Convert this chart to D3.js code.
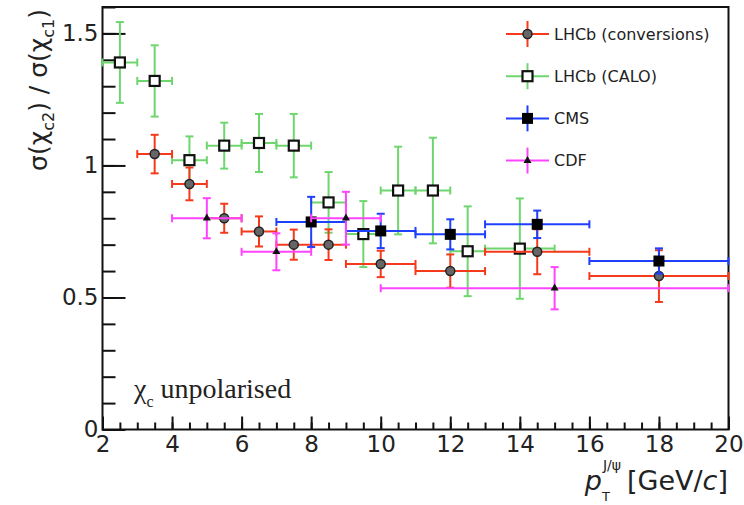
<!DOCTYPE html>
<html>
<head>
<meta charset="utf-8">
<script src="https://cdn.jsdelivr.net/npm/d3@7"></script>
<style>
  body { margin: 0; background: #fff; }
  text { font-family: "DejaVu Sans", sans-serif; fill: #222; }
</style>
</head>
<body>
<div id="chart"></div>
<script>
// LHCb (conversions)
var convX = [3.5, 4.5, 5.5, 6.5, 7.5, 8.5, 10, 12, 14.5, 18];
var convXerr = [0.5, 0.5, 0.5, 0.5, 0.5, 0.5, 1, 1, 1.5, 2];
var convY = [1.043, 0.93, 0.80, 0.75, 0.70, 0.70, 0.627, 0.60, 0.673, 0.581];
var convErr = [0.073, 0.062, 0.055, 0.057, 0.057, 0.058, 0.05, 0.063, 0.085, 0.098];

// LHCb (CALO)
var caloX = [2.5, 3.5, 4.5, 5.5, 6.5, 7.5, 8.5, 9.5, 10.5, 11.5, 12.5, 14];
var caloXerr = [0.5, 0.5, 0.5, 0.5, 0.5, 0.5, 0.5, 0.5, 0.5, 0.5, 0.5, 1];
var caloY = [1.39, 1.32, 1.02, 1.075, 1.085, 1.075, 0.86, 0.74, 0.905, 0.905, 0.675, 0.685];
var caloErr = [0.153, 0.135, 0.09, 0.087, 0.11, 0.12, 0.115, 0.125, 0.166, 0.2, 0.17, 0.19];

// CMS
var cmsX = [8, 10, 12, 14.5, 18];
var cmsXerr = [1, 1, 1, 1.5, 2];
var cmsY = [0.786, 0.752, 0.739, 0.777, 0.638];
var cmsErr = [0.095, 0.065, 0.057, 0.052, 0.048];

// CDF
var cdfX = [5, 7, 9, 15];
var cdfXerr = [1, 1, 1, 5];
var cdfY = [0.80, 0.673, 0.80, 0.535];
var cdfErr = [0.076, 0.07, 0.1, 0.08];

var xMajor = [2, 4, 6, 8, 10, 12, 14, 16, 18, 20];
var yMajor = [0, 0.5, 1, 1.5];
var legendLabels = ["LHCb (conversions)", "LHCb (CALO)", "CMS", "CDF"];

var svgWidth = 744, svgHeight = 505;
var margin = { top: 7, right: 15.5, bottom: 75.5, left: 102.5 };
var chartWidth = svgWidth - margin.left - margin.right;
var chartHeight = svgHeight - margin.top - margin.bottom;

var colors = { conv: "#f53a1c", calo: "#6fd66f", cms: "#1f3fff", cdf: "#ff44ff" };

var svg = d3.select("#chart").append("svg")
    .attr("width", svgWidth)
    .attr("height", svgHeight);

var chartGroup = svg.append("g")
    .attr("transform", `translate(${margin.left}, ${margin.top})`);

var xScale = d3.scaleLinear().domain([2, 20]).range([0, chartWidth]);
var yScale = d3.scaleLinear().domain([0, 1.6]).range([chartHeight, 0]);

// minor ticks
chartGroup.append("g")
    .attr("class", "axis")
    .attr("transform", `translate(0, ${chartHeight})`)
    .call(d3.axisBottom(xScale).tickValues(d3.range(2, 20.01, 0.5)).tickSize(-7).tickFormat(""));
chartGroup.append("g")
    .attr("class", "axis")
    .call(d3.axisLeft(yScale).tickValues(d3.range(0, 1.601, 0.1)).tickSize(-13).tickFormat(""));

// major ticks + labels
var xAxis = chartGroup.append("g")
    .attr("class", "axis")
    .attr("transform", `translate(0, ${chartHeight})`)
    .call(d3.axisBottom(xScale).tickValues(xMajor).tickSize(-13).tickPadding(6).tickFormat(d => String(d)));
var yAxis = chartGroup.append("g")
    .attr("class", "axis")
    .call(d3.axisLeft(yScale).tickValues(yMajor).tickSize(-23).tickPadding(4).tickFormat(d => String(d)));

svg.selectAll(".axis path.domain").remove();
svg.selectAll(".axis line").attr("stroke", "#111").attr("stroke-width", 2);
svg.selectAll(".axis text").style("font-size", "23px").style("font-family", "DejaVu Sans").attr("fill", "#1e1e2a");

// frame
chartGroup.append("rect")
    .attr("width", chartWidth)
    .attr("height", chartHeight)
    .attr("fill", "none")
    .attr("stroke", "#111")
    .attr("stroke-width", 2);

// error bars
function drawSeries(xs, xerr, ys, yerr, color, marker) {
    var g = chartGroup.append("g");
    var cap = 4;
    xs.forEach(function(xv, i) {
        var cx = xScale(xv), cy = yScale(ys[i]);
        var x0 = xScale(xv - xerr[i]), x1 = xScale(xv + xerr[i]);
        var y0 = yScale(ys[i] - yerr[i]), y1 = yScale(ys[i] + yerr[i]);
        var segs = [
            [x0, cy, x1, cy], [cx, y0, cx, y1],
            [x0, cy - cap, x0, cy + cap], [x1, cy - cap, x1, cy + cap],
            [cx - cap, y0, cx + cap, y0], [cx - cap, y1, cx + cap, y1]
        ];
        segs.forEach(function(s) {
            g.append("line")
                .attr("x1", s[0]).attr("y1", s[1]).attr("x2", s[2]).attr("y2", s[3])
                .attr("stroke", color).attr("stroke-width", 2);
        });
    });
    xs.forEach(function(xv, i) {
        drawMarker(g, marker, xScale(xv), yScale(ys[i]));
    });
}

function drawMarker(g, marker, cx, cy) {
    if (marker === "circle") {
        g.append("circle").attr("cx", cx).attr("cy", cy).attr("r", 4.5)
            .attr("fill", "#666").attr("stroke", "#222").attr("stroke-width", 1.5);
    } else if (marker === "open") {
        g.append("rect").attr("x", cx - 5).attr("y", cy - 5).attr("width", 10).attr("height", 10)
            .attr("fill", "#fff").attr("stroke", "#111").attr("stroke-width", 2.2);
    } else if (marker === "filled") {
        g.append("rect").attr("x", cx - 5.5).attr("y", cy - 5.5).attr("width", 11).attr("height", 11)
            .attr("fill", "#000");
    } else {
        g.append("path").attr("d", d3.symbol(d3.symbolTriangle, 28)()).attr("transform", `translate(${cx},${cy})`)
            .attr("fill", "#111");
    }
}

drawSeries(caloX, caloXerr, caloY, caloErr, colors.calo, "open");
drawSeries(convX, convXerr, convY, convErr, colors.conv, "circle");
drawSeries(cmsX, cmsXerr, cmsY, cmsErr, colors.cms, "filled");
drawSeries(cdfX, cdfXerr, cdfY, cdfErr, colors.cdf, "tri");

// legend
var legendColors = [colors.conv, colors.calo, colors.cms, colors.cdf];
var legendMarkers = ["circle", "open", "filled", "tri"];
var legend = svg.append("g");
legendLabels.forEach(function(lab, i) {
    var ly = 34 + i * 42.2, lx = 527.5;
    legend.append("line").attr("x1", 506).attr("x2", 549).attr("y1", ly).attr("y2", ly)
        .attr("stroke", legendColors[i]).attr("stroke-width", 2);
    legend.append("line").attr("x1", lx).attr("x2", lx).attr("y1", ly - 13).attr("y2", ly + 13)
        .attr("stroke", legendColors[i]).attr("stroke-width", 2);
    drawMarker(legend, legendMarkers[i], lx, ly);
    legend.append("text").attr("x", 554).attr("y", ly).attr("dy", "0.36em")
        .style("font-size", "16px").attr("fill", "#2a2a3a").text(lab);
});

// chi_c unpolarised
var chiText = svg.append("text").attr("x", 134).attr("y", 398)
    .style("font-family", "Liberation Serif, serif").style("font-size", "28px");
chiText.append("tspan").text("χ");
chiText.append("tspan").attr("dy", 9).style("font-size", "16px").text("c");
chiText.append("tspan").attr("dy", -9).attr("dx", 7).text("unpolarised");

// x title
var xt = svg.append("text").attr("text-anchor", "end").attr("x", 728).attr("y", 490)
    .style("font-size", "27px");
xt.append("tspan").text("[GeV/");
xt.append("tspan").style("font-style", "italic").text("c");
xt.append("tspan").text("]");
var bb = xt.node().getBBox();
svg.append("text").attr("text-anchor", "end").attr("x", bb.x - 25).attr("y", 490)
    .style("font-size", "27px").style("font-style", "italic").text("p");
svg.append("text").attr("x", bb.x - 25).attr("y", 501)
    .style("font-size", "13px").text("T");
svg.append("text").attr("x", bb.x - 24).attr("y", 470)
    .style("font-size", "14px").text("J/ψ");

// y title
var yt = svg.append("text")
    .attr("transform", "translate(47, 9) rotate(-90)")
    .attr("text-anchor", "end")
    .attr("fill", "#4a3430")
    .style("font-size", "25px");
yt.append("tspan").text("σ(χ");
yt.append("tspan").attr("dy", 7).style("font-size", "16px").text("c2");
yt.append("tspan").attr("dy", -7).text(") / σ(χ");
yt.append("tspan").attr("dy", 7).style("font-size", "16px").text("c1");
yt.append("tspan").attr("dy", -7).text(")");
</script>
</body>
</html>
